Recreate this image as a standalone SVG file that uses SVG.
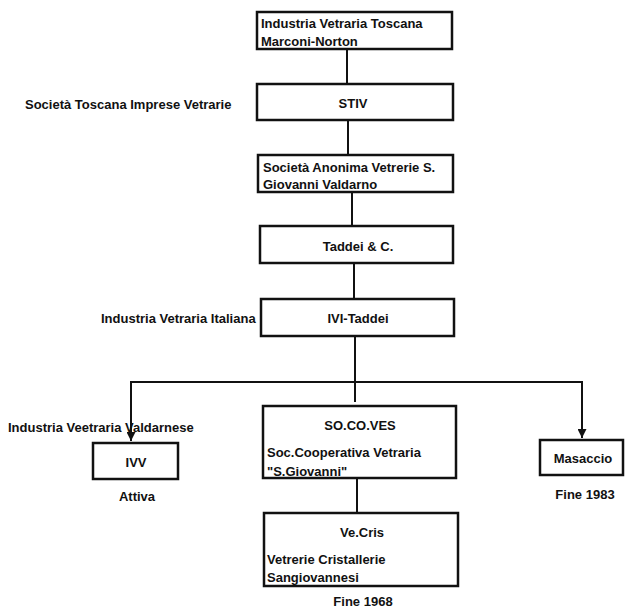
<svg xmlns="http://www.w3.org/2000/svg" width="625" height="608" viewBox="0 0 625 608">
<defs>
<style>
.box{fill:#fff;stroke:#111;stroke-width:2.5}
.t{font-family:"Liberation Sans",Arial,sans-serif;font-weight:bold;font-size:13px;fill:#111}
.c{text-anchor:middle}
.ln{fill:none;stroke:#111;stroke-width:2}
</style>
<marker id="ah" viewBox="0 0 10 10" refX="10" refY="5" markerWidth="9" markerHeight="9" markerUnits="userSpaceOnUse" orient="auto">
<path d="M0,0 L10,5 L0,10 z" fill="#111"/>
</marker>
</defs>
<rect width="625" height="608" fill="#fff"/>
<g id="connectors">
<line class="ln" x1="347" y1="49" x2="347" y2="84"/>
<line class="ln" x1="348" y1="120" x2="348" y2="155"/>
<line class="ln" x1="352" y1="192" x2="352" y2="226"/>
<line class="ln" x1="354" y1="263" x2="354" y2="299"/>
<line class="ln" x1="355" y1="336" x2="355" y2="402"/>
<polyline class="ln" points="355,382 131,382 131,441" marker-end="url(#ah)"/>
<polyline class="ln" points="355,382 582,382 582,438" marker-end="url(#ah)"/>
<line class="ln" x1="357" y1="478" x2="357" y2="513"/>
</g>
<g id="n1"><rect class="box" x="257" y="12" width="195" height="37"/>
<text class="t" x="261" y="28">Industria Vetraria Toscana</text><text class="t" x="261" y="46">Marconi-Norton</text></g>
<g id="n2"><rect class="box" x="257" y="84" width="196" height="36"/>
<text class="t c" x="353" y="108">STIV</text></g>
<text class="t" x="25" y="109">Società Toscana Imprese Vetrarie</text>
<g id="n3"><rect class="box" x="258" y="155" width="195" height="37"/>
<text class="t" x="263" y="172">Società Anonima Vetrerie S.</text><text class="t" x="263" y="189">Giovanni Valdarno</text></g>
<g id="n4"><rect class="box" x="260" y="226" width="193" height="37"/>
<text class="t c" x="358" y="251">Taddei &amp; C.</text></g>
<g id="n5"><rect class="box" x="261" y="299" width="193" height="37"/>
<text class="t c" x="358" y="323">IVI-Taddei</text></g>
<text class="t" x="101" y="323">Industria Vetraria Italiana</text>
<g id="n6"><rect class="box" x="263" y="406" width="193" height="72"/>
<text class="t c" x="360" y="430">SO.CO.VES</text>
<text class="t" x="267" y="457">Soc.Cooperativa Vetraria</text><text class="t" x="267" y="476">"S.Giovanni"</text></g>
<g id="n7"><rect class="box" x="264" y="513" width="194" height="73"/>
<text class="t c" x="362" y="537">Ve.Cris</text>
<text class="t" x="267" y="564">Vetrerie Cristallerie</text><text class="t" x="267" y="582">Sangiovannesi</text></g>
<text class="t c" x="363" y="606">Fine 1968</text>
<g id="n8"><rect class="box" x="93" y="443" width="85" height="36"/>
<text class="t c" x="136" y="467">IVV</text></g>
<text class="t" x="8" y="432">Industria Veetraria Valdarnese</text>
<text class="t c" x="137" y="501">Attiva</text>
<g id="n9"><rect class="box" x="540" y="440" width="83" height="35"/>
<text class="t c" x="583" y="463">Masaccio</text></g>
<text class="t c" x="585" y="499">Fine 1983</text>
</svg>
